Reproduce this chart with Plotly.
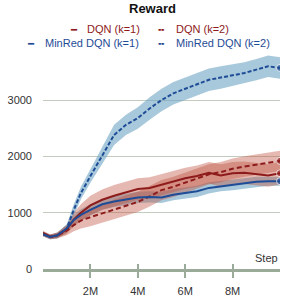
import plotly.graph_objects as go

# ---- data ----
steps_m = [0, 0.3, 0.6, 1.0, 1.3, 1.6, 2.0, 2.5, 3.0, 3.5, 4.0, 4.5, 5.0,
           5.5, 6.0, 6.5, 7.0, 7.5, 8.0, 8.5, 9.0, 9.5, 10.0]

dqn_k1 = [640, 575, 600, 700, 880, 1000, 1130, 1230, 1300, 1360, 1420, 1440,
          1500, 1550, 1610, 1650, 1710, 1660, 1700, 1710, 1690, 1660, 1700]
dqn_k1_err = [40, 40, 50, 80, 120, 150, 170, 180, 190, 190, 190, 190,
              190, 190, 190, 190, 190, 200, 200, 200, 200, 200, 200]

dqn_k2 = [620, 570, 590, 680, 780, 860, 920, 990, 1060, 1130, 1190, 1290,
          1400, 1460, 1530, 1600, 1680, 1720, 1780, 1820, 1850, 1880, 1920]
dqn_k2_err = [40, 40, 50, 80, 110, 140, 160, 170, 180, 180, 180, 180,
              180, 180, 180, 180, 180, 180, 180, 180, 180, 180, 180]

minred_k1 = [620, 570, 600, 720, 870, 960, 1050, 1150, 1200, 1240, 1270, 1280,
             1270, 1320, 1350, 1380, 1440, 1470, 1490, 1520, 1550, 1560, 1560]
minred_k1_err = [40, 40, 50, 70, 90, 100, 100, 100, 100, 100, 100, 100,
                 100, 100, 100, 100, 100, 90, 90, 90, 90, 80, 80]

minred_k2 = [620, 570, 590, 720, 1050, 1350, 1650, 2020, 2380, 2560, 2680, 2850,
             3000, 3120, 3200, 3290, 3360, 3400, 3440, 3480, 3540, 3600, 3570]
minred_k2_err = [40, 40, 50, 70, 100, 110, 120, 150, 180, 180, 190, 200,
                 200, 200, 200, 200, 200, 200, 190, 190, 190, 190, 190]

x_tickvals = [2, 4, 6, 8]
x_ticktext = ["2M", "4M", "6M", "8M"]
y_tickvals = [0, 1000, 2000, 3000]
chart_title = "Reward"

RED = "#8e1b1b"
BLUE = "#1f4c96"
RED_BAND = "rgba(190,80,60,0.40)"
BLUE_BAND = "rgba(110,165,195,0.60)"
AXIS = "#9aab9a"
TXT = "#333333"

# name, values, err, colour, band colour, dash, legend symbol
series = [
    ("MinRed DQN (k=1)", minred_k1, minred_k1_err, BLUE, BLUE_BAND, "solid", "━"),
    ("MinRed DQN (k=2)", minred_k2, minred_k2_err, BLUE, BLUE_BAND, "4px,2px", "╍"),
    ("DQN (k=1)", dqn_k1, dqn_k1_err, RED, RED_BAND, "solid", "━"),
    ("DQN (k=2)", dqn_k2, dqn_k2_err, RED, RED_BAND, "5px,3px", "╍"),
]

fig = go.Figure()

# bands
for name, vals, err, col, band, dash, sym in series:
    up = [v + e for v, e in zip(vals, err)]
    lo = [v - e for v, e in zip(vals, err)]
    fig.add_trace(go.Scatter(x=steps_m, y=up, mode="lines", line=dict(width=0),
                             showlegend=False, hoverinfo="skip"))
    fig.add_trace(go.Scatter(x=steps_m, y=lo, mode="lines", line=dict(width=0),
                             fill="tonexty", fillcolor=band,
                             showlegend=False, hoverinfo="skip"))

# lines
for i, (name, vals, err, col, band, dash, sym) in enumerate(series):
    sizes = [0] * (len(vals) - 1) + [7]
    fig.add_trace(go.Scatter(
        x=steps_m, y=vals, mode="lines+markers", name=name,
        line=dict(color=col, width=2, dash=dash),
        marker=dict(size=sizes, color=col),
        showlegend=False,
        xaxis="x2" if i == 0 else "x",
    ))

# manual legend (two centred rows), positions in pixels
W, H = 300, 300
ML, MR, MT, MB = 43, 20, 55, 31
PW, PH = W - ML - MR, H - MT - MB


def px_x(px):
    return (px - ML) / PW


def px_y(py):
    return (H - MB - py) / PH


legend_rows = [
    # (series index, symbol x, text x, row y)
    (2, 69, 86, 29), (3, 157, 175, 29),
    (0, 26, 44, 43), (1, 157, 175, 43),
]
annotations = [dict(text=f"<b>{chart_title}</b>", xref="paper", yref="paper",
                    x=px_x(152), y=px_y(8), xanchor="center", yanchor="middle",
                    showarrow=False, borderpad=0,
                    font=dict(size=13, color="#111111"))]
for idx, sx, tx, ry in legend_rows:
    name, vals, err, col, band, dash, sym = series[idx]
    annotations.append(dict(text=sym, xref="paper", yref="paper", x=px_x(sx), y=px_y(ry),
                            xanchor="left", yanchor="middle", showarrow=False,
                            borderpad=0, font=dict(size=10, color=col,
                                                   family="DejaVu Sans")))
    annotations.append(dict(text=name, xref="paper", yref="paper", x=px_x(tx), y=px_y(ry),
                            xanchor="left", yanchor="middle", showarrow=False,
                            borderpad=0, font=dict(size=11, color=col)))

annotations.append(dict(text="Step", xref="paper", yref="y", x=1, y=0, xanchor="right",
                        yanchor="bottom", yshift=3, showarrow=False,
                        font=dict(size=11, color=TXT)))

fig.update_layout(
    width=W, height=H,
    margin=dict(l=ML, r=MR, t=MT, b=MB, autoexpand=False),
    paper_bgcolor="white", plot_bgcolor="white",
    showlegend=False,
    font=dict(family="Liberation Sans, Arial, sans-serif", size=11, color=TXT),
    xaxis=dict(range=[0, 10], tickvals=x_tickvals, ticktext=x_ticktext,
               showgrid=False, zeroline=False, showline=True, linecolor=AXIS, linewidth=2.5,
               ticks="outside", ticklen=6, tickwidth=2, tickcolor=AXIS,
               ticklabelstandoff=4, tickfont=dict(size=11, color=TXT)),
    xaxis2=dict(range=[0, 10], overlaying="x", anchor="y", side="bottom",
                tickvals=x_tickvals, showticklabels=False, showgrid=False, zeroline=False,
                showline=False, ticks="inside", ticklen=5, tickwidth=2, tickcolor=AXIS),
    yaxis=dict(range=[0, 3800], tickvals=y_tickvals, showgrid=True, gridcolor="#c3cbbf",
               gridwidth=1, zeroline=False, showline=False, ticks="",
               ticklabelstandoff=10, tickfont=dict(size=11, color=TXT)),
    annotations=annotations,
)

fig.write_html("out.html", config={"displayModeBar": False},
               post_script="document.body.style.margin='0';document.body.style.padding='0';")
